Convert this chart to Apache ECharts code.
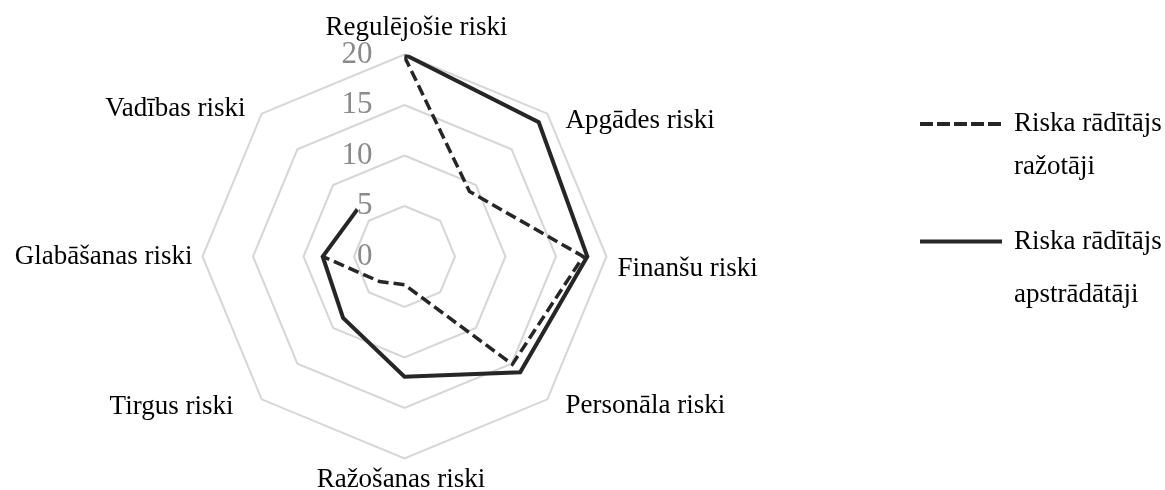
<!DOCTYPE html>
<html>
<head>
<meta charset="utf-8">
<script src="https://cdn.jsdelivr.net/npm/echarts@6/dist/echarts.min.js"></script>
<style>
  html, body { margin: 0; padding: 0; background: #fff; }
  #chart { width: 1165px; height: 490px; }
</style>
</head>
<body>
<div id="chart"></div>
<script>
// clockwise from the top
const categories = ['Regulējošie riski', 'Apgādes riski', 'Finanšu riski', 'Personāla riski',
    'Ražošanas riski', 'Tirgus riski', 'Glabāšanas riski', 'Vadības riski'];
const razotaji = [19.8, 9.1, 17.7, 15.1, 2.8, 3.5, 8.1, null];
const apstradataji = [20, 18.8, 18.1, 16.2, 11.9, 8.6, 8.1, 6.6];
const seriesNames = ['Riska rādītājs ražotāji', 'Riska rādītājs apstrādātāji'];
const legendLines = [['Riska rādītājs', 'ražotāji'], ['Riska rādītājs', 'apstrādātāji']];
const axisMin = 0;
const axisMax = 20;
const axisStep = 5;

const FONT = 'Liberation Serif';
const CENTER = [404.5, 256.5];
const RADIUS = 202;

// nudges so the names sit where Excel puts them
const namePadding = [
    [0, 0, 7, 24], [22, 0, 0, 14], [25, 0, 0, 5], [4, 0, 0, 14],
    [2, 7, 0, 0], [7, 24, 0, 0], [1, 4, 0, 0], [0, 12, 1, 0]
];

// radar runs counter-clockwise, so feed it the names in that order
const radarOrder = [categories[0]].concat(categories.slice(1).reverse());

function polarData(values) {
    let res = values.map(function (v, i) {
        return [v == null ? '-' : v, categories[i]];
    });
    res.push(res[0].slice());
    return res;
}

let rich = {};
categories.forEach(function (c, i) {
    rich['n' + i] = { fontFamily: FONT, fontSize: 27, color: '#000', padding: namePadding[i] };
});

// blank first line keeps the first text line level with the legend line
function legendOpt(idx, top, lineHeight, dash) {
    return {
        data: [seriesNames[idx]],
        left: 918,
        top: top,
        padding: 0,
        itemWidth: 82,
        itemHeight: 1,
        formatter: function () { return ' \n' + legendLines[idx].join('\n'); },
        lineStyle: { width: 4, type: dash },
        textStyle: { fontFamily: FONT, fontSize: 27, color: '#000', lineHeight: lineHeight, padding: [0, 0, 0, 7] }
    };
}

const chart = echarts.init(document.getElementById('chart'));
chart.setOption({
    animation: false,
    backgroundColor: '#fff',
    radar: {
        center: CENTER,
        radius: RADIUS,
        startAngle: 90,
        shape: 'polygon',
        splitNumber: 4,
        nameGap: 6,
        indicator: radarOrder.map(function (n) {
            return { name: n, min: axisMin, max: axisMax };
        }),
        axisName: {
            color: '#000',
            fontFamily: FONT,
            fontSize: 27,
            formatter: function (name) {
                return '{n' + categories.indexOf(name) + '|' + name + '}';
            },
            rich: rich
        },
        axisLine: { show: false },
        axisTick: { show: false },
        axisLabel: { show: false },
        splitArea: { show: false },
        splitLine: { lineStyle: { color: '#d6d6d6', width: 2 } }
    },
    polar: {
        center: CENTER,
        radius: RADIUS
    },
    angleAxis: {
        type: 'category',
        data: categories,
        startAngle: 90,
        clockwise: true,
        boundaryGap: false,
        axisLine: { show: false },
        axisTick: { show: false },
        axisLabel: { show: false },
        splitLine: { show: false }
    },
    radiusAxis: {
        type: 'value',
        min: axisMin,
        max: axisMax,
        interval: axisStep,
        axisLine: { show: false },
        axisTick: { show: false },
        splitLine: { show: false },
        axisLabel: {
            color: '#8a8a8a',
            fontFamily: FONT,
            fontSize: 31,
            margin: 32
        }
    },
    legend: [
        legendOpt(0, 59.5, 43, [13, 4]),
        legendOpt(1, 162, 53, 'solid')
    ],
    series: [{
        name: seriesNames[0],
        type: 'line',
        coordinateSystem: 'polar',
        symbol: 'none',
        data: polarData(razotaji),
        lineStyle: { color: '#262626', width: 3.5, type: [11, 5], cap: 'butt', join: 'miter' },
        itemStyle: { color: '#262626' },
        z: 3
    }, {
        name: seriesNames[1],
        type: 'line',
        coordinateSystem: 'polar',
        symbol: 'none',
        data: polarData(apstradataji),
        lineStyle: { color: '#262626', width: 4, type: 'solid', join: 'miter' },
        itemStyle: { color: '#262626' },
        z: 2
    }]
});
</script>
</body>
</html>
